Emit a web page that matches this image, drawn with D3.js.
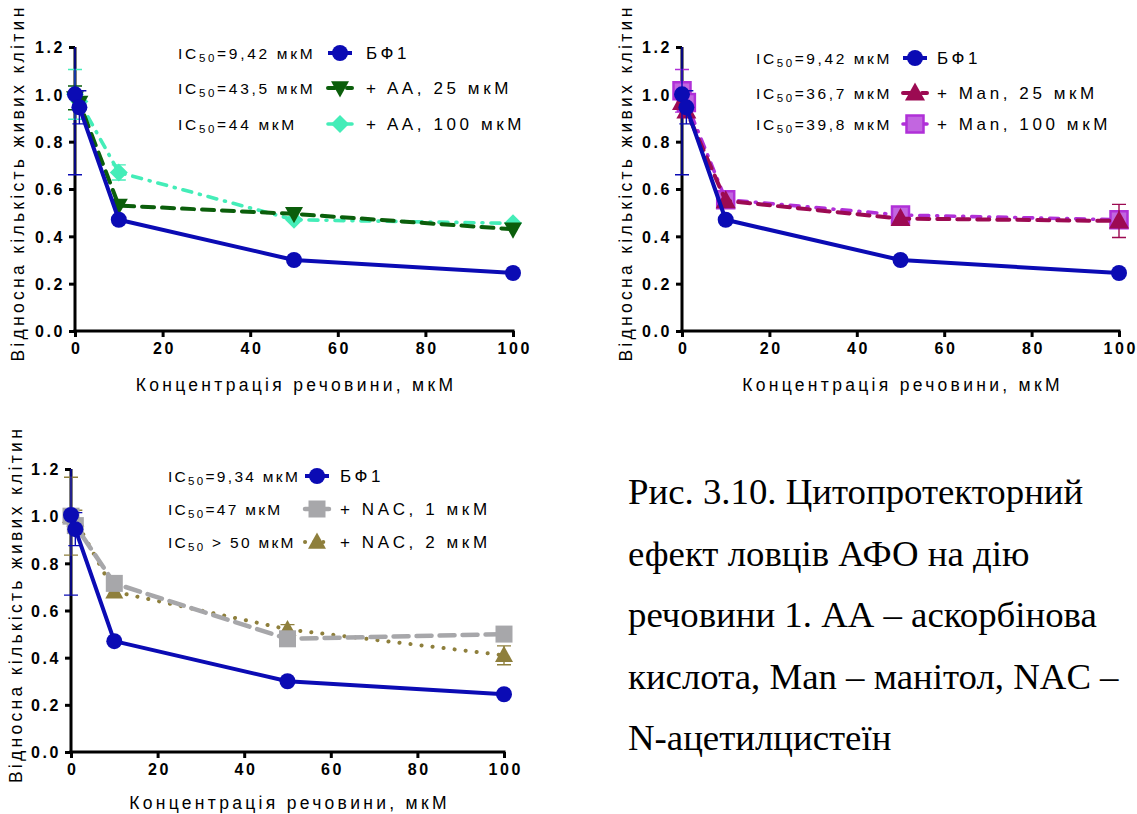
<!DOCTYPE html>
<html>
<head>
<meta charset="utf-8">
<script src="https://cdn.jsdelivr.net/npm/d3@7"></script>
<style>
  html, body { margin: 0; padding: 0; background: #fff; }
  svg { display: block; }
</style>
</head>
<body>
<svg id="fig" width="1137" height="814"></svg>
<script>
// Concentrations of substance 1 (µM)
const conc = [0, 1, 10, 50, 100];
const xTicks = [0, 20, 40, 60, 80, 100];
const yTicks = [0, 0.2, 0.4, 0.6, 0.8, 1.0, 1.2];

// Relative number of living cells, mean and error
const bf1 = [1.0, 0.945, 0.47, 0.30, 0.245];
const bf1Err = [0.34, 0.07, 0, 0, 0];
const bf1b = [1.005, 0.945, 0.47, 0.30, 0.245];

const aa25 = [0.985, 0.965, 0.53, 0.495, 0.43];
const aa25Err = [0.05, 0, 0, 0, 0];
const aa100 = [1.0, 0.97, 0.67, 0.47, 0.455];
const aa100Err = [0.105, 0, 0.032, 0, 0];

const man25 = [0.965, 0.93, 0.55, 0.475, 0.465];
const man25Err = [0, 0, 0, 0, 0.07];
const man100 = [1.015, 0.965, 0.555, 0.49, 0.47];
const man100Err = [0.09, 0, 0, 0, 0];

const nac1 = [1.0, 0.96, 0.715, 0.48, 0.50];
const nac1Err = [0, 0, 0, 0, 0];
const nac2 = [1.0, 0.985, 0.68, 0.52, 0.41];
const nac2Err = [0.165, 0.04, 0, 0.02, 0.04];

// Legend texts
const legendA = [["9,42", "БФ1"], ["43,5", "+ AA, 25 мкМ"], ["44", "+ AA, 100 мкМ"]];
const legendB = [["9,42", "БФ1"], ["36,7", "+ Man, 25 мкМ"], ["39,8", "+ Man, 100 мкМ"]];
const legendC = [["=9,34", "БФ1"], ["=47", "+ NAC, 1 мкМ"], [" > 50", "+ NAC, 2 мкМ"]];

const yTitle = "Відносна кількість живих клітин";
const xTitle = "Концентрація речовини, мкМ";
const caption = [
  "Рис. 3.10. Цитопротекторний",
  "ефект ловців АФО на дію",
  "речовини 1. АА – аскорбінова",
  "кислота, Man – манітол, NAC –",
  "N-ацетилцистеїн"
];

// Series styling
const S = {
  bf1:    { color: "#0B0BB4", fill: "#0B0BB4", dash: null,           width: 4,   shape: "circle",  size: 8 },
  aa25:   { color: "#0B5E0B", fill: "#0B5E0B", dash: "12,8",         width: 4,   shape: "triDown", size: 9 },
  aa100:  { color: "#44EDB8", fill: "#44EDB8", dash: "9,8,1,8",      width: 3.6, shape: "diamond", size: 9 },
  man25:  { color: "#9C0A52", fill: "#9C0A52", dash: "12,8",         width: 4,   shape: "triUp",   size: 10 },
  man100: { color: "#B030D8", fill: "#C266E0", dash: "9,8,1,8",      width: 3.6, shape: "square",  size: 8.5 },
  nac1:   { color: "#A7A7AA", fill: "#A7A7AA", dash: "15,8",         width: 4.5, shape: "square",  size: 8.5 },
  nac2:   { color: "#8E7F3C", fill: "#8E7F3C", dash: "0.1,11",       width: 4,   shape: "triUp",   size: 9 }
};

const panels = [
  { x0: 75,  x1: 513,  yT: 47,  yB: 331,
    series: [["aa100", aa100, aa100Err], ["aa25", aa25, aa25Err], ["bf1", bf1, bf1Err]],
    legend: legendA, legendKeys: ["bf1", "aa25", "aa100"],
    lg: { icX: 178, symX: 340, labX: 366, rows: [53, 88, 124], icSpacing: 2.7 }, icFmt: "eq",
    xTitleY: 391, titleCx: 18 },
  { x0: 682, x1: 1119, yT: 47,  yB: 331,
    series: [["man100", man100, man100Err], ["man25", man25, man25Err], ["bf1", bf1, bf1Err]],
    legend: legendB, legendKeys: ["bf1", "man25", "man100"],
    lg: { icX: 756, symX: 915, labX: 937, rows: [58, 93, 124], icSpacing: 2.6 }, icFmt: "eq",
    xTitleY: 391, titleCx: 626 },
  { x0: 71,  x1: 504,  yT: 469, yB: 752,
    series: [["nac2", nac2, nac2Err], ["nac1", nac1, nac1Err], ["bf1", bf1b, bf1Err]],
    legend: legendC, legendKeys: ["bf1", "nac1", "nac2"],
    lg: { icX: 168, symX: 317, labX: 340, rows: [476, 509, 542], icSpacing: 2.3 }, icFmt: "raw",
    xTitleY: 809, titleCx: 16 }
];

const svg = d3.select("#fig");
const sans = "'Liberation Sans', Arial, sans-serif";

function shapePath(shape, r) {
  switch (shape) {
    case "triDown": return `M${-r},${-r * 0.75}L${r},${-r * 0.75}L0,${r * 1.05}Z`;
    case "triUp":   return `M${-r},${r * 0.75}L${r},${r * 0.75}L0,${-r * 1.05}Z`;
    case "diamond": return `M0,${-r}L${r},0L0,${r}L${-r},0Z`;
    case "square":  return `M${-r},${-r}H${r}V${r}H${-r}Z`;
    default:        return d3.symbol(d3.symbolCircle, Math.PI * r * r)();
  }
}

function drawMarker(g, st, x, y) {
  const p = g.append("path")
    .attr("d", shapePath(st.shape, st.size))
    .attr("transform", `translate(${x},${y})`)
    .attr("fill", st.fill);
  if (st.shape === "square" && st.fill !== st.color) {
    p.attr("stroke", st.color).attr("stroke-width", 2.5);
  }
}

panels.forEach((P, pi) => {
  const x = d3.scaleLinear().domain([0, 100]).range([P.x0, P.x1]);
  const y = d3.scaleLinear().domain([0, 1.2]).range([P.yB, P.yT]);
  const g = svg.append("g");

  const clipId = "clip" + pi;
  svg.append("clipPath").attr("id", clipId)
    .append("rect").attr("x", P.x0 - 20).attr("y", P.yT).attr("width", P.x1 - P.x0 + 40).attr("height", P.yB - P.yT + 20);

  // Axes
  const yAxis = d3.axisLeft(y).tickValues(yTicks).tickFormat(d3.format(".1f")).tickSize(6).tickPadding(4);
  const xAxis = d3.axisBottom(x).tickValues(xTicks).tickFormat(d3.format("d")).tickSize(6).tickPadding(6);
  const gy = g.append("g").attr("transform", `translate(${P.x0},0)`).call(yAxis);
  const gx = g.append("g").attr("transform", `translate(0,${P.yB})`).call(xAxis);
  [gx, gy].forEach(ax => {
    ax.select(".domain").attr("stroke", "#000").attr("stroke-width", 3);
    ax.selectAll(".tick line").attr("stroke", "#000").attr("stroke-width", 3);
    ax.selectAll(".tick text").attr("fill", "#000")
      .style("font-family", sans).style("font-weight", "bold").style("font-size", "16px")
      .style("letter-spacing", "2.6px");
  });
  gy.select(".domain").attr("d", `M0,${P.yB + 1.5}V${P.yT}`);
  gx.select(".domain").attr("d", `M${P.x0 - 1.5},0H${P.x1 + 1.5}`);
  gy.selectAll(".tick text").attr("dy", "0.36em");
  gx.selectAll(".tick text").attr("dx", "1.3px");

  // Axis titles
  g.append("text")
    .attr("transform", `translate(${P.titleCx},${(P.yT + P.yB) / 2 - 6}) rotate(-90)`)
    .attr("text-anchor", "middle").attr("dominant-baseline", "central")
    .style("font-family", sans).style("font-size", "17.5px").style("letter-spacing", "3.3px")
    .text(yTitle);
  g.append("text")
    .attr("x", (P.x0 + P.x1) / 2 + 2).attr("y", P.xTitleY)
    .attr("text-anchor", "middle")
    .style("font-family", sans).style("font-size", "17.5px").style("letter-spacing", "3.3px")
    .text(xTitle);

  // Series: lines, error bars, markers
  const plot = g.append("g").attr("clip-path", `url(#${clipId})`);
  P.series.forEach(([key, vals, errs]) => {
    const st = S[key];
    const pts = conc.map((c, i) => [x(c), y(vals[i])]);
    plot.append("path")
      .attr("d", d3.line()(pts))
      .attr("fill", "none").attr("stroke", st.color).attr("stroke-width", st.width)
      .attr("stroke-dasharray", st.dash).attr("stroke-linecap", st.dash ? "round" : "butt")
      .attr("stroke-linejoin", "round");
    conc.forEach((c, i) => {
      const e = errs[i];
      if (!e) return;
      const cx = x(c), yh = y(vals[i] + e), yl = y(vals[i] - e);
      plot.append("path")
        .attr("d", `M${cx},${yh}V${yl}M${cx - 7},${yh}H${cx + 7}M${cx - 7},${yl}H${cx + 7}`)
        .attr("stroke", st.color).attr("stroke-width", 1.4).attr("fill", "none");
    });
    conc.forEach((c, i) => drawMarker(plot, st, x(c), y(vals[i])));
  });

  // Legend
  P.legendKeys.forEach((key, i) => {
    const st = S[key];
    const ry = P.lg.rows[i];
    const [ic, lab] = P.legend[i];
    const t = g.append("text").attr("x", P.lg.icX).attr("y", ry)
      .attr("dominant-baseline", "central")
      .style("font-family", sans).style("font-size", "15.5px").style("letter-spacing", P.lg.icSpacing + "px");
    t.append("tspan").text("IC");
    t.append("tspan").attr("dy", 5).style("font-size", "11.5px").text("50");
    t.append("tspan").attr("dy", -5).text((P.icFmt === "eq" ? "=" + ic : ic) + " мкМ");

    const sx = P.lg.symX;
    g.append("line").attr("x1", sx - 12).attr("x2", sx + 12).attr("y1", ry).attr("y2", ry)
      .attr("stroke", st.color).attr("stroke-width", st.width)
      .attr("stroke-dasharray", st.dash ? (key === "nac2" ? "0.1,9" : "7,12") : null)
      .attr("stroke-linecap", st.dash ? "round" : "butt");
    drawMarker(g, st, sx, ry);
    g.append("text").attr("x", P.lg.labX).attr("y", ry)
      .attr("dominant-baseline", "central")
      .style("font-family", sans).style("font-size", "17px").style("letter-spacing", "3.6px")
      .text(lab);
  });
});

// Figure caption
svg.append("text")
  .style("font-family", "'Liberation Serif', 'Times New Roman', serif").style("font-size", "36.8px")
  .selectAll("tspan").data(caption).join("tspan")
  .attr("x", 628).attr("y", (d, i) => 504 + i * 61.5)
  .text(d => d);
</script>
</body>
</html>
